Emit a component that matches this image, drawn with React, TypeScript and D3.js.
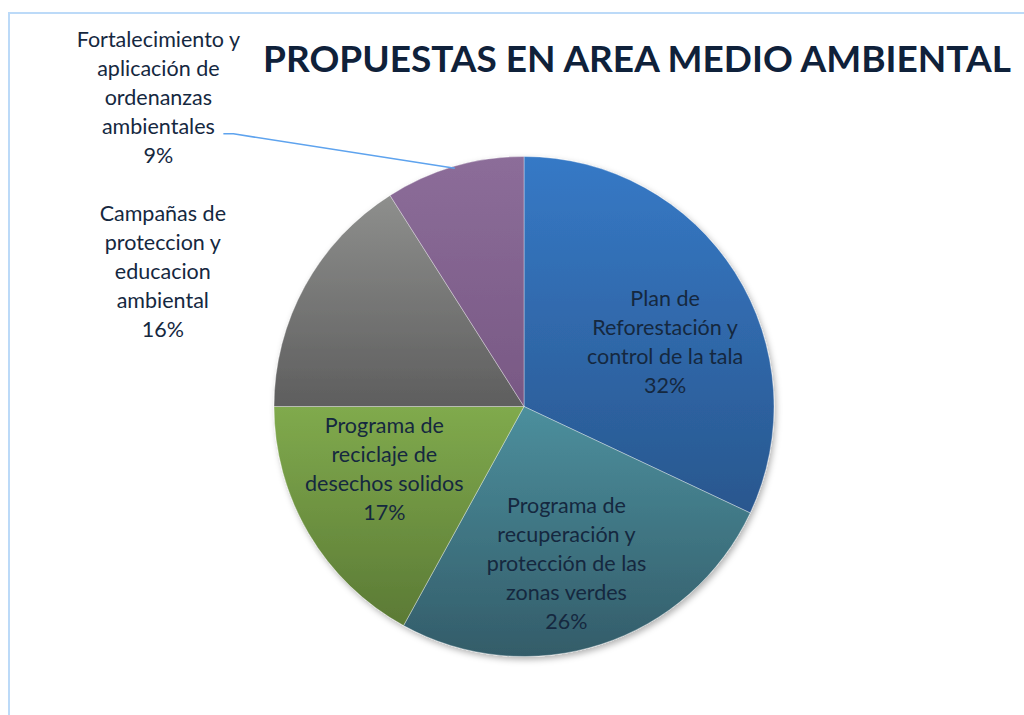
import React, { useRef, useEffect } from 'react';
import * as d3 from 'd3';

// chart data
const categories = [
  ['Plan de', 'Reforestación y', 'control de la tala'],
  ['Programa de', 'recuperación y', 'protección de las', 'zonas verdes'],
  ['Programa de', 'reciclaje de', 'desechos solidos'],
  ['Campañas de', 'proteccion y', 'educacion', 'ambiental'],
  ['Fortalecimiento y', 'aplicación de', 'ordenanzas', 'ambientales'],
];
const values = [32, 26, 17, 16, 9];
const percentLabels = ['32%', '26%', '17%', '16%', '9%'];
const title = 'PROPUESTAS EN AREA MEDIO AMBIENTAL';

// slice colours: [top, bottom] of the vertical gradient
const sliceColors = [
  ['#3679c6', '#29578e'],
  ['#4c8f9d', '#335c69'],
  ['#80aa4d', '#5b7a35'],
  ['#8e8f8d', '#5e5e5e'],
  ['#8c6d99', '#785884'],
];

const App = () => {
  const svgRef = useRef<SVGSVGElement>(null);

  useEffect(() => {
    const width = 1024;
    const height = 715;
    const cx = 524;
    const cy = 406.5;
    const radius = 250;
    const font = 'Lato, "Open Sans", sans-serif';
    const textColor = '#15283f';

    const svg = d3.select(svgRef.current);
    svg.selectAll('*').remove();
    svg.attr('width', width).attr('height', height);

    // frame
    svg.append('rect')
      .attr('x', 9).attr('y', 13)
      .attr('width', width + 20).attr('height', height + 20)
      .attr('fill', '#fff')
      .attr('stroke', '#bcdaf8')
      .attr('stroke-width', 2);

    const defs = svg.append('defs');
    sliceColors.forEach((c, i) => {
      const g = defs.append('linearGradient')
        .attr('id', `slice-grad-${i}`)
        .attr('x1', 0).attr('y1', 0).attr('x2', 0).attr('y2', 1);
      g.append('stop').attr('offset', '0%').attr('stop-color', c[0]);
      g.append('stop').attr('offset', '100%').attr('stop-color', c[1]);
    });
    const shadow = defs.append('filter').attr('id', 'pie-shadow')
      .attr('x', '-10%').attr('y', '-10%').attr('width', '120%').attr('height', '120%');
    shadow.append('feDropShadow')
      .attr('dx', 2).attr('dy', 3).attr('stdDeviation', 3)
      .attr('flood-color', '#000').attr('flood-opacity', 0.3);

    // title
    svg.append('text')
      .attr('x', 637).attr('y', 72)
      .attr('text-anchor', 'middle')
      .attr('font-family', font)
      .attr('font-weight', 700)
      .attr('font-size', 37)
      .attr('fill', '#0f213a')
      .text(title);

    const pie = d3.pie<number>().sort(null).value(d => d);
    const arcs = pie(values);
    const arc = d3.arc<d3.PieArcDatum<number>>().innerRadius(0).outerRadius(radius);
    const labelArc = d3.arc<d3.PieArcDatum<number>>().innerRadius(160).outerRadius(160);
    const edgeArc = d3.arc<d3.PieArcDatum<number>>().innerRadius(radius - 2).outerRadius(radius - 2);

    const g = svg.append('g').attr('transform', `translate(${cx},${cy})`);

    const slices = g.append('g').attr('filter', 'url(#pie-shadow)');
    slices.selectAll('path')
      .data(arcs)
      .join('path')
      .attr('d', arc)
      .attr('fill', (_, i) => `url(#slice-grad-${i})`)
      .attr('stroke', 'rgba(255,255,255,0.35)')
      .attr('stroke-width', 1);

    // label nudges (px) relative to centroid; outside labels sit far left
    const nudges: [number, number][] = [
      [6, 21],
      [-7, 5],
      [-2, -19],
      [-221, -58],
      [-321, -155],
    ];
    const lineH = 29;

    arcs.forEach((a, i) => {
      const [lx, ly] = labelArc.centroid(a);
      const x = lx + nudges[i][0];
      const y = ly + nudges[i][1];
      const lines = [...categories[i], percentLabels[i]];
      const top = y - ((lines.length - 1) * lineH) / 2;
      const t = g.append('text')
        .attr('text-anchor', 'middle')
        .attr('font-family', font)
        .attr('font-size', 21.5)
        .attr('fill', textColor);
      lines.forEach((ln, k) => {
        t.append('tspan')
          .attr('x', x)
          .attr('y', top + k * lineH)
          .attr('dy', '0.35em')
          .text(ln);
      });

      // leader line for the smallest slice
      if (i === values.length - 1) {
        const [ex, ey] = edgeArc.centroid(a);
        const ax = x + 65;
        const ay = top + 3 * lineH + 7;
        g.append('path')
          .attr('d', d3.line()([[ax, ay], [ax + 10, ay], [ex, ey]]))
          .attr('fill', 'none')
          .attr('stroke', '#5ea3ee')
          .attr('stroke-width', 1.5);
      }
    });
  }, []);

  return (
    <svg ref={svgRef} style={{ position: 'absolute', left: 0, top: 0, background: '#fff' }} />
  );
};

export default App;
